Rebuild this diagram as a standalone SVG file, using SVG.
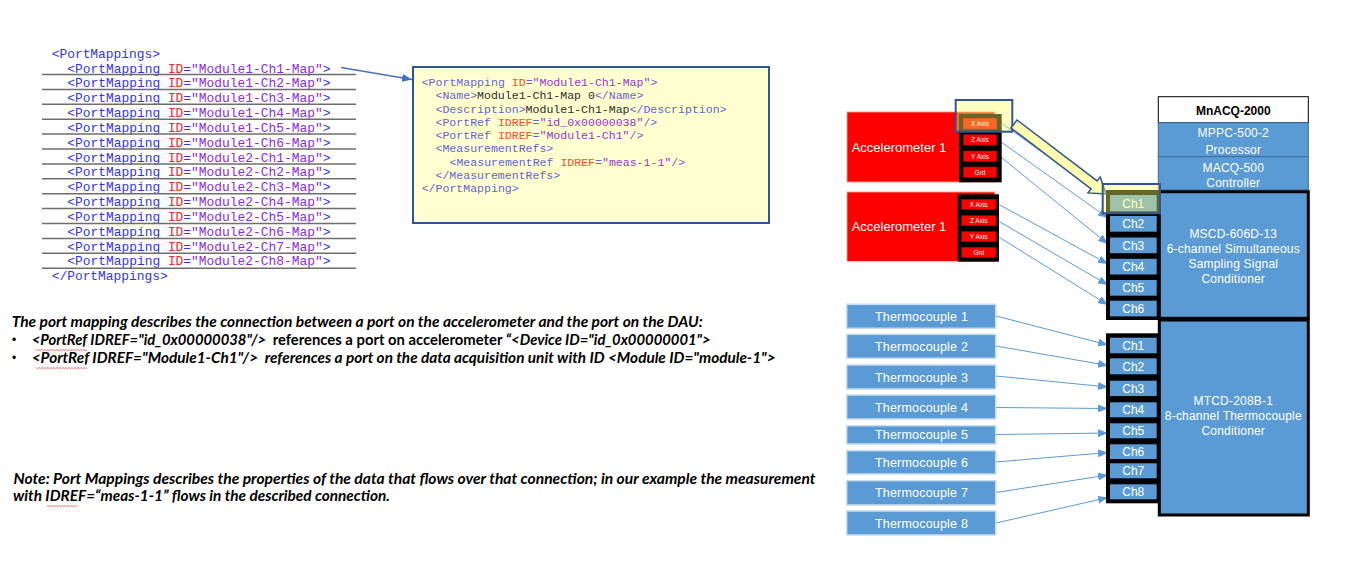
<svg xmlns="http://www.w3.org/2000/svg" width="1355" height="572" viewBox="0 0 1355 572">
<style>
.mono{font-family:"Liberation Mono","DejaVu Sans Mono",monospace}
.l{font-size:12.9px}
.b{font-size:11.55px}
.tg{fill:#3434ee}.at{fill:#f02828}.vl{fill:#8a2be2}
.btg{fill:#6464d4}.bat{fill:#ff4a2a}.bvl{fill:#9a34cc}.bct{fill:#2b2b2b}
.sep{stroke:#6e6e6e;stroke-width:1.5}
.para{font-family:Lato,"Liberation Sans",sans-serif;font-size:14.5px;font-weight:bold;fill:#000}
.it{font-style:italic}
.up{font-style:normal}
.bul{font-family:"Liberation Sans",Arial,sans-serif;font-size:12px;fill:#000}
.sq{fill:none;stroke:#e05050;stroke-width:0.8}
.lab{font-family:"Liberation Sans",Arial,sans-serif;fill:#fff}
.acc{fill:#ff0000;stroke:#ffd6d6;stroke-width:1.2}
.port{fill:#ff0000;stroke:#b00000;stroke-width:0.6}
.pt{font-family:"Liberation Sans",Arial,sans-serif;font-size:6.5px;fill:#fff;text-anchor:middle}
.tc{fill:#5b9bd5;stroke:#c6dcf0;stroke-width:1.5}
.tct{font-size:12.5px;text-anchor:middle;letter-spacing:0.2px}
.ch{fill:#5b9bd5}
.cht{font-size:12px;text-anchor:middle}
.mod{fill:#5b9bd5;stroke:#3d6a93;stroke-width:1}
.modk{fill:#5b9bd5;stroke:#000;stroke-width:3}
.mt{font-size:12px;text-anchor:middle;letter-spacing:0.2px}
.conn{stroke:#5b9bd5;stroke-width:1;fill:none}
.hl{fill:#ffff64;fill-opacity:0.4;stroke:#2f5597;stroke-width:2}
</style>
<defs>
<marker id="ah" markerUnits="userSpaceOnUse" markerWidth="10" markerHeight="8" refX="10" refY="4" orient="auto">
<path d="M0,0 L10,4 L0,8 z" fill="#5b9bd5"/>
</marker>
<marker id="ah2" markerUnits="userSpaceOnUse" markerWidth="10" markerHeight="8" refX="10" refY="4" orient="auto">
<path d="M0,0 L10,4 L0,8 z" fill="#4472c4"/>
</marker>
</defs>
<rect width="1355" height="572" fill="#fff"/>

<g id="portmappings-list" class="mono l">
<text x="51.7" y="58" class="tg">&lt;PortMappings&gt;</text>
<text x="67.3" y="72.5"><tspan class="tg">&lt;PortMapping </tspan><tspan class="at">ID</tspan><tspan class="tg">=</tspan><tspan class="vl">"Module1-Ch1-Map"</tspan><tspan class="tg">&gt;</tspan></text>
<text x="67.3" y="87.3"><tspan class="tg">&lt;PortMapping </tspan><tspan class="at">ID</tspan><tspan class="tg">=</tspan><tspan class="vl">"Module1-Ch2-Map"</tspan><tspan class="tg">&gt;</tspan></text>
<text x="67.3" y="102.2"><tspan class="tg">&lt;PortMapping </tspan><tspan class="at">ID</tspan><tspan class="tg">=</tspan><tspan class="vl">"Module1-Ch3-Map"</tspan><tspan class="tg">&gt;</tspan></text>
<text x="67.3" y="117"><tspan class="tg">&lt;PortMapping </tspan><tspan class="at">ID</tspan><tspan class="tg">=</tspan><tspan class="vl">"Module1-Ch4-Map"</tspan><tspan class="tg">&gt;</tspan></text>
<text x="67.3" y="131.8"><tspan class="tg">&lt;PortMapping </tspan><tspan class="at">ID</tspan><tspan class="tg">=</tspan><tspan class="vl">"Module1-Ch5-Map"</tspan><tspan class="tg">&gt;</tspan></text>
<text x="67.3" y="146.7"><tspan class="tg">&lt;PortMapping </tspan><tspan class="at">ID</tspan><tspan class="tg">=</tspan><tspan class="vl">"Module1-Ch6-Map"</tspan><tspan class="tg">&gt;</tspan></text>
<text x="67.3" y="161.5"><tspan class="tg">&lt;PortMapping </tspan><tspan class="at">ID</tspan><tspan class="tg">=</tspan><tspan class="vl">"Module2-Ch1-Map"</tspan><tspan class="tg">&gt;</tspan></text>
<text x="67.3" y="176.3"><tspan class="tg">&lt;PortMapping </tspan><tspan class="at">ID</tspan><tspan class="tg">=</tspan><tspan class="vl">"Module2-Ch2-Map"</tspan><tspan class="tg">&gt;</tspan></text>
<text x="67.3" y="191.2"><tspan class="tg">&lt;PortMapping </tspan><tspan class="at">ID</tspan><tspan class="tg">=</tspan><tspan class="vl">"Module2-Ch3-Map"</tspan><tspan class="tg">&gt;</tspan></text>
<text x="67.3" y="206"><tspan class="tg">&lt;PortMapping </tspan><tspan class="at">ID</tspan><tspan class="tg">=</tspan><tspan class="vl">"Module2-Ch4-Map"</tspan><tspan class="tg">&gt;</tspan></text>
<text x="67.3" y="220.8"><tspan class="tg">&lt;PortMapping </tspan><tspan class="at">ID</tspan><tspan class="tg">=</tspan><tspan class="vl">"Module2-Ch5-Map"</tspan><tspan class="tg">&gt;</tspan></text>
<text x="67.3" y="235.7"><tspan class="tg">&lt;PortMapping </tspan><tspan class="at">ID</tspan><tspan class="tg">=</tspan><tspan class="vl">"Module2-Ch6-Map"</tspan><tspan class="tg">&gt;</tspan></text>
<text x="67.3" y="250.5"><tspan class="tg">&lt;PortMapping </tspan><tspan class="at">ID</tspan><tspan class="tg">=</tspan><tspan class="vl">"Module2-Ch7-Map"</tspan><tspan class="tg">&gt;</tspan></text>
<text x="67.3" y="265.3"><tspan class="tg">&lt;PortMapping </tspan><tspan class="at">ID</tspan><tspan class="tg">=</tspan><tspan class="vl">"Module2-Ch8-Map"</tspan><tspan class="tg">&gt;</tspan></text>
<text x="51.7" y="279.5" class="tg">&lt;/PortMappings&gt;</text>
<g class="sep">
<line x1="42" y1="74.5" x2="356" y2="74.5"/>
<line x1="42" y1="89.4" x2="356" y2="89.4"/>
<line x1="42" y1="104.3" x2="356" y2="104.3"/>
<line x1="42" y1="119.2" x2="356" y2="119.2"/>
<line x1="42" y1="134.1" x2="356" y2="134.1"/>
<line x1="42" y1="149" x2="356" y2="149"/>
<line x1="42" y1="163.9" x2="356" y2="163.9"/>
<line x1="42" y1="178.8" x2="356" y2="178.8"/>
<line x1="42" y1="193.7" x2="356" y2="193.7"/>
<line x1="42" y1="208.6" x2="356" y2="208.6"/>
<line x1="42" y1="223.5" x2="356" y2="223.5"/>
<line x1="42" y1="238.4" x2="356" y2="238.4"/>
<line x1="42" y1="253.3" x2="356" y2="253.3"/>
<line x1="42" y1="268.2" x2="356" y2="268.2"/>
</g>
</g>

<g id="portmapping-detail">
<rect x="413" y="67" width="356" height="156" fill="#ffffd0" stroke="#2f5597" stroke-width="2"/>
<g class="mono b">
<text x="421.7" y="86"><tspan class="btg">&lt;PortMapping </tspan><tspan class="bat">ID</tspan><tspan class="btg">=</tspan><tspan class="bvl">"Module1-Ch1-Map"</tspan><tspan class="btg">&gt;</tspan></text>
<text x="435.5" y="99.2"><tspan class="btg">&lt;Name&gt;</tspan><tspan class="bct">Module1-Ch1-Map 0</tspan><tspan class="btg">&lt;/Name&gt;</tspan></text>
<text x="435.5" y="112.5"><tspan class="btg">&lt;Description&gt;</tspan><tspan class="bct">Module1-Ch1-Map</tspan><tspan class="btg">&lt;/Description&gt;</tspan></text>
<text x="435.5" y="125.7"><tspan class="btg">&lt;PortRef </tspan><tspan class="bat">IDREF</tspan><tspan class="btg">=</tspan><tspan class="bvl">"id_0x00000038"</tspan><tspan class="btg">/&gt;</tspan></text>
<text x="435.5" y="139"><tspan class="btg">&lt;PortRef </tspan><tspan class="bat">IDREF</tspan><tspan class="btg">=</tspan><tspan class="bvl">"Module1-Ch1"</tspan><tspan class="btg">/&gt;</tspan></text>
<text x="435.5" y="152.2" class="btg">&lt;MeasurementRefs&gt;</text>
<text x="449.5" y="165.5"><tspan class="btg">&lt;MeasurementRef </tspan><tspan class="bat">IDREF</tspan><tspan class="btg">=</tspan><tspan class="bvl">"meas-1-1"</tspan><tspan class="btg">/&gt;</tspan></text>
<text x="435.5" y="178.7" class="btg">&lt;/MeasurementRefs&gt;</text>
<text x="421.7" y="192" class="btg">&lt;/PortMapping&gt;</text>
</g>
</g>

<g id="description-text">
<text class="para it" x="11.7" y="327" textLength="691" lengthAdjust="spacingAndGlyphs">The port mapping describes the connection between a port on the accelerometer and the port on the DAU:</text>
<text class="bul" x="12" y="344">•</text>
<text class="para it" x="31.7" y="345" textLength="679" lengthAdjust="spacingAndGlyphs" xml:space="preserve">&lt;PortRef IDREF="id_0x00000038"/&gt;  <tspan class="up">references a port on accelerometer</tspan> “&lt;Device ID="id_0x00000001"&gt;</text>
<text class="bul" x="12" y="362">•</text>
<text class="para it" x="31.7" y="363" textLength="744" lengthAdjust="spacingAndGlyphs" xml:space="preserve">&lt;PortRef IDREF="Module1-Ch1"/&gt;  references a port on the data acquisition unit with ID &lt;Module ID="module-1"&gt;</text>
<path class="sq" d="M36 349.5 l1.5 1.2 1.5 -1.2 1.5 1.2 1.5 -1.2 1.5 1.2 1.5 -1.2 1.5 1.2 1.5 -1.2 1.5 1.2 1.5 -1.2 1.5 1.2 1.5 -1.2 1.5 1.2 1.5 -1.2 1.5 1.2 1.5 -1.2 1.5 1.2 1.5 -1.2 1.5 1.2 1.5 -1.2 1.5 1.2 1.5 -1.2 1.5 1.2 1.5 -1.2 1.5 1.2 1.5 -1.2 1.5 1.2 1.5 -1.2 1.5 1.2 1.5 -1.2 1.5 1.2 1.5 -1.2 1.5 1.2 1.5 -1.2"/>
<path class="sq" d="M36 367.5 l1.5 1.2 1.5 -1.2 1.5 1.2 1.5 -1.2 1.5 1.2 1.5 -1.2 1.5 1.2 1.5 -1.2 1.5 1.2 1.5 -1.2 1.5 1.2 1.5 -1.2 1.5 1.2 1.5 -1.2 1.5 1.2 1.5 -1.2 1.5 1.2 1.5 -1.2 1.5 1.2 1.5 -1.2 1.5 1.2 1.5 -1.2 1.5 1.2 1.5 -1.2 1.5 1.2 1.5 -1.2 1.5 1.2 1.5 -1.2 1.5 1.2 1.5 -1.2 1.5 1.2 1.5 -1.2 1.5 1.2 1.5 -1.2"/>
<text class="para it" x="13.5" y="484" textLength="802" lengthAdjust="spacingAndGlyphs">Note: Port Mappings describes the properties of the data that flows over that connection; in our example the measurement</text>
<text class="para it" x="13" y="501" textLength="377" lengthAdjust="spacingAndGlyphs">with IDREF=“meas-1-1” flows in the described connection.</text>
<path class="sq" d="M47 505.5 l1.5 1.2 1.5 -1.2 1.5 1.2 1.5 -1.2 1.5 1.2 1.5 -1.2 1.5 1.2 1.5 -1.2 1.5 1.2 1.5 -1.2 1.5 1.2 1.5 -1.2 1.5 1.2 1.5 -1.2 1.5 1.2 1.5 -1.2 1.5 1.2 1.5 -1.2 1.5 1.2 1.5 -1.2"/>
</g>

<g id="connectors">
<line x1="341" y1="67.5" x2="412" y2="79.5" stroke="#4472c4" stroke-width="1.5" marker-end="url(#ah2)"/>
<line class="conn" x1="1001.7" y1="123.3" x2="1090" y2="186"/>
<line class="conn" x1="998.3" y1="140" x2="1108" y2="218" marker-end="url(#ah)"/>
<line class="conn" x1="998.3" y1="155" x2="1108" y2="244" marker-end="url(#ah)"/>
<line class="conn" x1="996.7" y1="203.3" x2="1108" y2="264" marker-end="url(#ah)"/>
<line class="conn" x1="998.3" y1="221" x2="1108" y2="285" marker-end="url(#ah)"/>
<line class="conn" x1="998.3" y1="236.7" x2="1108" y2="305" marker-end="url(#ah)"/>
<line class="conn" x1="996" y1="316" x2="1108" y2="345" marker-end="url(#ah)"/>
<line class="conn" x1="996" y1="346" x2="1108" y2="365.5" marker-end="url(#ah)"/>
<line class="conn" x1="996" y1="376" x2="1108" y2="387" marker-end="url(#ah)"/>
<line class="conn" x1="996" y1="407.5" x2="1108" y2="408.5" marker-end="url(#ah)"/>
<line class="conn" x1="996" y1="434.5" x2="1108" y2="433" marker-end="url(#ah)"/>
<line class="conn" x1="996" y1="462" x2="1108" y2="452.5" marker-end="url(#ah)"/>
<line class="conn" x1="996" y1="492.5" x2="1108" y2="475" marker-end="url(#ah)"/>
<line class="conn" x1="996" y1="523" x2="1108" y2="497.5" marker-end="url(#ah)"/>
</g>

<g id="accelerometer-1">
<rect class="acc" x="846.7" y="111.7" width="148.3" height="70.6"/>
<text class="lab" x="851.7" y="152.3" font-size="13">Accelerometer 1</text>
<rect x="959" y="114" width="42.7" height="68.3" fill="#000"/>
<rect class="port" x="963.3" y="118.3" width="33.4" height="10.7"/><text class="pt" x="980" y="126">X Axis</text>
<rect class="port" x="963.3" y="134.7" width="33.4" height="10.3"/><text class="pt" x="980" y="142.2">Z Axis</text>
<rect class="port" x="963.3" y="151" width="33.4" height="10.3"/><text class="pt" x="980" y="158.5">Y Axis</text>
<rect class="port" x="963.3" y="167" width="33.4" height="10.3"/><text class="pt" x="980" y="174.5">Grd</text>
</g>

<g id="accelerometer-2">
<rect class="acc" x="846.7" y="191.7" width="148.3" height="70"/>
<text class="lab" x="851.7" y="231.3" font-size="13">Accelerometer 1</text>
<rect x="957.7" y="194.3" width="41.3" height="67.4" fill="#000"/>
<rect class="port" x="961.7" y="199.3" width="34.3" height="10"/><text class="pt" x="978.8" y="206.7">X Axis</text>
<rect class="port" x="961.7" y="215.7" width="34.3" height="10"/><text class="pt" x="978.8" y="223.1">Z Axis</text>
<rect class="port" x="961.7" y="231.7" width="34.3" height="10"/><text class="pt" x="978.8" y="239.1">Y Axis</text>
<rect class="port" x="961.7" y="247.3" width="34.3" height="10"/><text class="pt" x="978.8" y="254.7">Grd</text>
</g>

<g id="thermocouples" class="lab tct">
<g id="tc1"><rect class="tc" x="846.7" y="304.3" width="149" height="24"/><text x="921.5" y="320.8">Thermocouple  1</text></g>
<g id="tc2"><rect class="tc" x="846.7" y="334.3" width="149" height="24"/><text x="921.5" y="350.8">Thermocouple  2</text></g>
<g id="tc3"><rect class="tc" x="846.7" y="365" width="149" height="24"/><text x="921.5" y="381.5">Thermocouple  3</text></g>
<g id="tc4"><rect class="tc" x="846.7" y="395" width="149" height="24"/><text x="921.5" y="411.5">Thermocouple  4</text></g>
<g id="tc5"><rect class="tc" x="846.7" y="425.7" width="149" height="18.3"/><text x="921.5" y="439.3">Thermocouple  5</text></g>
<g id="tc6"><rect class="tc" x="846.7" y="450.7" width="149" height="23.3"/><text x="921.5" y="466.8">Thermocouple  6</text></g>
<g id="tc7"><rect class="tc" x="846.7" y="480.7" width="149" height="24.3"/><text x="921.5" y="497.3">Thermocouple  7</text></g>
<g id="tc8"><rect class="tc" x="846.7" y="511" width="149" height="24"/><text x="921.5" y="527.5">Thermocouple  8</text></g>
</g>

<g id="mnacq-2000">
<rect x="1158.3" y="96.7" width="150" height="26" fill="#fff" stroke="#000" stroke-width="1"/>
<text x="1233.3" y="115.3" font-family="Liberation Sans,Arial,sans-serif" font-size="12" font-weight="bold" text-anchor="middle" fill="#000">MnACQ-2000</text>
</g>
<g id="mppc-500-2" class="lab mt">
<rect class="mod" x="1158.3" y="122.7" width="150" height="34"/>
<text x="1233.3" y="137">MPPC-500-2</text>
<text x="1233.3" y="153.5">Processor</text>
</g>
<g id="macq-500" class="lab mt">
<rect class="mod" x="1158.3" y="156.7" width="150" height="33.3"/>
<text x="1233.3" y="171.5">MACQ-500</text>
<text x="1233.3" y="187">Controller</text>
</g>
<g id="mscd-606d-13" class="lab">
<rect class="modk" x="1159.3" y="191.7" width="149" height="126.6"/>
<g class="mt">
<text x="1233.3" y="237.5">MSCD-606D-13</text>
<text x="1233.3" y="252.5">6-channel Simultaneous</text>
<text x="1233.3" y="267.5">Sampling Signal</text>
<text x="1233.3" y="282.5">Conditioner</text>
</g>
<rect x="1106" y="190" width="53.3" height="130" fill="#000"/>
<g class="cht">
<rect class="ch" x="1110" y="195" width="46.7" height="16.3"/><text x="1133.3" y="207.5">Ch1</text>
<rect class="ch" x="1110" y="216" width="46.7" height="15.7"/><text x="1133.3" y="228.3">Ch2</text>
<rect class="ch" x="1110" y="237.5" width="46.7" height="15.7"/><text x="1133.3" y="249.8">Ch3</text>
<rect class="ch" x="1110" y="258.8" width="46.7" height="15.7"/><text x="1133.3" y="271.1">Ch4</text>
<rect class="ch" x="1110" y="280" width="46.7" height="15.7"/><text x="1133.3" y="292.3">Ch5</text>
<rect class="ch" x="1110" y="300.7" width="46.7" height="15.7"/><text x="1133.3" y="313">Ch6</text>
</g>
</g>
<g id="mtcd-208b-1" class="lab">
<rect class="modk" x="1159.3" y="320" width="149" height="195"/>
<g class="mt">
<text x="1233.3" y="405">MTCD-208B-1</text>
<text x="1233.3" y="420">8-channel Thermocouple</text>
<text x="1233.3" y="435">Conditioner</text>
</g>
<rect x="1106" y="333.3" width="53.3" height="170" fill="#000"/>
<g class="cht">
<rect class="ch" x="1110" y="337.7" width="46.7" height="15.6"/><text x="1133.3" y="349.8">Ch1</text>
<rect class="ch" x="1110" y="358.3" width="46.7" height="16"/><text x="1133.3" y="370.6">Ch2</text>
<rect class="ch" x="1110" y="380.7" width="46.7" height="15.3"/><text x="1133.3" y="392.7">Ch3</text>
<rect class="ch" x="1110" y="402.3" width="46.7" height="15"/><text x="1133.3" y="414.2">Ch4</text>
<rect class="ch" x="1110" y="423.3" width="46.7" height="15"/><text x="1133.3" y="435.2">Ch5</text>
<rect class="ch" x="1110" y="444.3" width="46.7" height="14.7"/><text x="1133.3" y="456">Ch6</text>
<rect class="ch" x="1110" y="463.3" width="46.7" height="15"/><text x="1133.3" y="475.2">Ch7</text>
<rect class="ch" x="1110" y="484.3" width="46.7" height="15"/><text x="1133.3" y="496.2">Ch8</text>
</g>
</g>

<g id="highlight">
<rect class="hl" x="955.7" y="100" width="56.6" height="31.7"/>
<polygon points="1011,128 1017,120 1097.1,180.9 1100.2,177 1106,194 1088,192.9 1091.1,188.9" fill="#ffffb0" stroke="#2f5597" stroke-width="1.5" stroke-linejoin="miter"/>
<rect class="hl" x="1102.7" y="184" width="57.3" height="29.3"/>
</g>
</svg>
